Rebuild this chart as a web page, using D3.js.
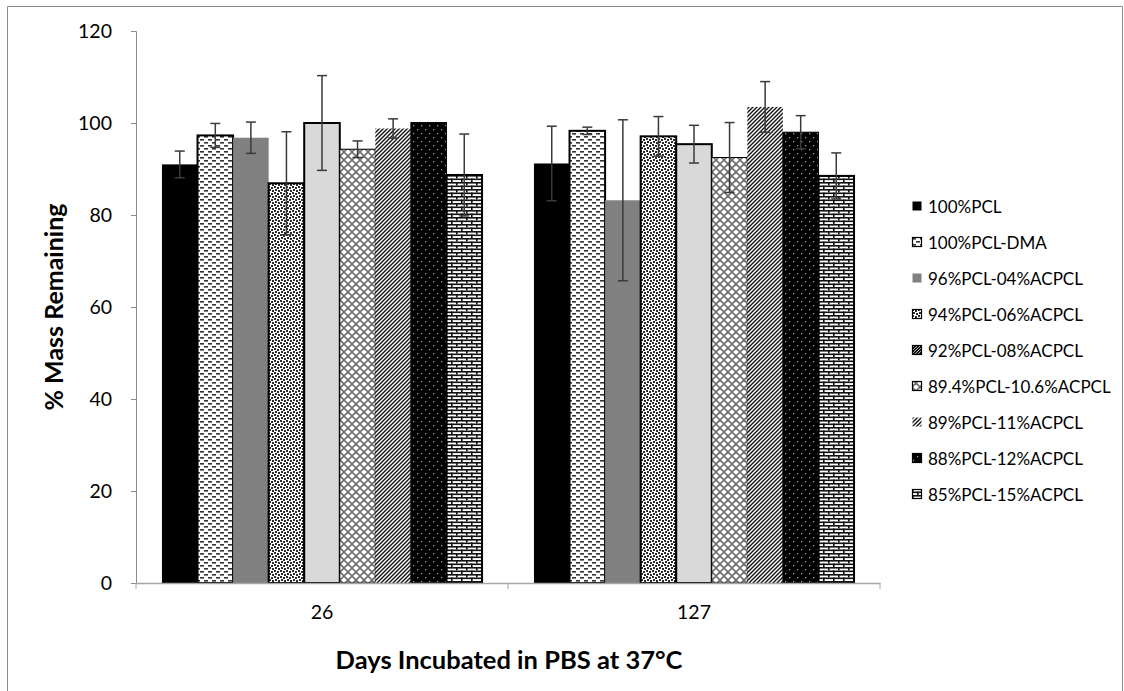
<!DOCTYPE html>
<html>
<head>
<meta charset="utf-8">
<script src="https://cdn.jsdelivr.net/npm/d3@7"></script>
<style>
  html, body { margin: 0; padding: 0; background: #fff; }
  svg { display: block; font-family: Lato, "Open Sans", sans-serif; }
</style>
</head>
<body>
<svg id="chart" width="1124" height="691"></svg>
<script>
// Days of incubation (x categories)
const days = ["26", "127"];
// Polymer formulations (series)
const series = [
  "100%PCL", "100%PCL-DMA", "96%PCL-04%ACPCL", "94%PCL-06%ACPCL",
  "92%PCL-08%ACPCL", "89.4%PCL-10.6%ACPCL", "89%PCL-11%ACPCL",
  "88%PCL-12%ACPCL", "85%PCL-15%ACPCL"
];
// % mass remaining, one value per series, for day 26 and day 127
const massDay26  = [91.0, 97.3, 96.8, 86.9, 100.0, 94.3, 98.8, 100.1, 88.7];
const massDay127 = [91.2, 98.3, 83.2, 97.1, 95.4, 92.5, 103.5, 98.0, 88.5];
// standard deviation (error bar half-length)
const errDay26  = [2.9, 2.6, 3.4, 11.2, 10.3, 1.8, 2.1, 0, 8.9];
const errDay127 = [8.1, 0.8, 17.5, 4.3, 4.1, 7.6, 5.5, 3.6, 5.0];
const yTicks = [0, 20, 40, 60, 80, 100, 120];

const svg = d3.select("#chart");
const defs = svg.append("defs");

// ---- fill patterns ----
function pattern(id, w, h, bg) {
  const p = defs.append("pattern").attr("id", id)
    .attr("patternUnits", "userSpaceOnUse").attr("width", w).attr("height", h);
  p.append("rect").attr("width", w).attr("height", h).attr("fill", bg);
  return p;
}
// short horizontal dashes
{
  const p = pattern("pDash", 8, 6, "#fff");
  p.append("rect").attr("x", 0).attr("y", 1).attr("width", 4).attr("height", 1.6).attr("fill", "#333");
  p.append("rect").attr("x", 4).attr("y", 4).attr("width", 4).attr("height", 1.6).attr("fill", "#333");
}
// confetti weave
{
  const p = pattern("pWeave", 6, 6, "#fff");
  [[0,0,2,2],[3,1,2,2],[1,3,2,2],[4,4,2,2]].forEach(r =>
    p.append("rect").attr("x", r[0]).attr("y", r[1]).attr("width", r[2]).attr("height", r[3]).attr("fill", "#2a2a2a"));
}
// diamond lattice
{
  const p = pattern("pDiamond", 8, 8, "#fff");
  p.append("path").attr("d", "M0,0L8,8M8,0L0,8M-4,4L4,-4M4,12L12,4M-4,4L4,12M4,-4L12,4")
    .attr("stroke", "#707070").attr("stroke-width", 1.6);
}
// dense upward diagonal
{
  const p = pattern("pDiag", 4, 4, "#fff");
  p.append("path").attr("d", "M-1,1L1,-1M0,4L4,0M3,5L5,3")
    .attr("stroke", "#111").attr("stroke-width", 1.4);
}
// black with grey dots
{
  const p = pattern("pDots", 8, 8, "#000");
  p.append("rect").attr("x", 1).attr("y", 1).attr("width", 1.3).attr("height", 1.3).attr("fill", "#999");
  p.append("rect").attr("x", 5).attr("y", 5).attr("width", 1.3).attr("height", 1.3).attr("fill", "#999");
}
// brick
{
  const p = pattern("pBrick", 10, 7, "#fff");
  p.append("rect").attr("x", 0).attr("y", 0).attr("width", 10).attr("height", 1.6).attr("fill", "#111");
  p.append("rect").attr("x", 0).attr("y", 3.5).attr("width", 10).attr("height", 1.6).attr("fill", "#111");
  p.append("rect").attr("x", 0).attr("y", 0).attr("width", 1.6).attr("height", 3.5).attr("fill", "#111");
  p.append("rect").attr("x", 5).attr("y", 3.5).attr("width", 1.6).attr("height", 3.5).attr("fill", "#111");
}
// legend swatch for the light grey series
{
  const p = pattern("pLegDiag", 3, 3, "#111");
  p.append("path").attr("d", "M0,3L3,0").attr("stroke", "#ddd").attr("stroke-width", 0.8);
}

const styles = [
  { fill: "#000", stroke: "none", sw: 0 },
  { fill: "url(#pDash)", stroke: "#000", sw: 2 },
  { fill: "#808080", stroke: "none", sw: 0 },
  { fill: "url(#pWeave)", stroke: "#000", sw: 2 },
  { fill: "#d9d9d9", stroke: "#000", sw: 2 },
  { fill: "url(#pDiamond)", stroke: "#000", sw: 1 },
  { fill: "url(#pDiag)", stroke: "none", sw: 0 },
  { fill: "url(#pDots)", stroke: "#000", sw: 1 },
  { fill: "url(#pBrick)", stroke: "#000", sw: 2 }
];
const legendFill = styles.map(s => s.fill);
legendFill[4] = "url(#pLegDiag)";

// ---- outer frame ----
svg.append("path").attr("d", "M7.5,700V6.5H1122.5V700")
  .attr("fill", "none").attr("stroke", "#8c8c8c").attr("stroke-width", 1);

// ---- scales ----
const x0 = d3.scaleBand().domain(days).range([136, 880]).paddingInner(0).paddingOuter(0);
const x1 = d3.scaleBand().domain(series).range([0, x0.bandwidth()]).paddingInner(0).paddingOuter(0.73);
const y = d3.scaleLinear().domain([0, 120]).range([583, 31]);

const data = days.map((d, i) => ({
  day: d,
  vals: series.map((s, j) => ({
    s, j,
    v: i === 0 ? massDay26[j] : massDay127[j],
    e: i === 0 ? errDay26[j] : errDay127[j]
  }))
}));

// ---- bars ----
const groups = svg.append("g").selectAll("g").data(data).join("g")
  .attr("transform", d => `translate(${x0(d.day)},0)`);

groups.selectAll("rect.bar").data(d => d.vals).join("rect")
  .attr("class", "bar")
  .attr("x", d => x1(d.s))
  .attr("y", d => y(d.v))
  .attr("width", x1.bandwidth())
  .attr("height", d => y(0) - y(d.v))
  .attr("fill", d => styles[d.j].fill)
  .attr("stroke", d => styles[d.j].stroke)
  .attr("stroke-width", d => styles[d.j].sw);

// ---- error bars ----
const eb = groups.selectAll("g.err").data(d => d.vals.filter(v => v.e > 0)).join("g")
  .attr("class", "err")
  .attr("stroke", "#3a3a3a").attr("stroke-width", 1.5);
eb.append("line")
  .attr("x1", d => x1(d.s) + x1.bandwidth() / 2).attr("x2", d => x1(d.s) + x1.bandwidth() / 2)
  .attr("y1", d => y(d.v - d.e)).attr("y2", d => y(d.v + d.e));
[1, -1].forEach(sign => {
  eb.append("line")
    .attr("x1", d => x1(d.s) + x1.bandwidth() / 2 - 5).attr("x2", d => x1(d.s) + x1.bandwidth() / 2 + 5)
    .attr("y1", d => y(d.v + sign * d.e)).attr("y2", d => y(d.v + sign * d.e));
});

// ---- axes ----
const yAxis = svg.append("g").attr("transform", "translate(136,0)")
  .call(d3.axisLeft(y).tickValues(yTicks).tickSize(5).tickPadding(19));
yAxis.select(".domain").attr("stroke", "#8c8c8c");
yAxis.selectAll(".tick line").attr("stroke", "#8c8c8c");
yAxis.selectAll("text").attr("font-size", 19.5).attr("fill", "#000")
  .attr("font-family", "Lato, sans-serif");

const xAxis = svg.append("g").attr("transform", "translate(0,583)")
  .call(d3.axisBottom(x0).tickSize(0).tickPadding(22));
xAxis.select(".domain").attr("stroke", "#a6a6a6").attr("stroke-width", 1.5);
xAxis.selectAll("text").attr("font-size", 19.5).attr("fill", "#000")
  .attr("font-family", "Lato, sans-serif");
// category separators
svg.append("g").selectAll("line").data([x0.range()[0], x0("127"), x0.range()[1]]).join("line")
  .attr("x1", d => d).attr("x2", d => d).attr("y1", 583).attr("y2", 589)
  .attr("stroke", "#a6a6a6").attr("stroke-width", 1);

// ---- axis titles ----
svg.append("text").attr("x", 509).attr("y", 669).attr("text-anchor", "middle")
  .attr("font-size", 25.5).attr("font-weight", "bold").text("Days Incubated in PBS at 37°C");
svg.append("text").attr("transform", "translate(63,307) rotate(-90)").attr("text-anchor", "middle")
  .attr("font-size", 25).attr("font-weight", "bold").text("% Mass Remaining");

// ---- legend ----
const leg = svg.append("g").selectAll("g").data(series).join("g")
  .attr("transform", (d, i) => `translate(912,${207 + i * 36})`);
leg.append("rect").attr("x", 0.5).attr("y", -5.5).attr("width", 9).attr("height", 9)
  .attr("fill", (d, i) => legendFill[i])
  .attr("stroke", (d, i) => (i === 0 || i === 2 || i === 6) ? "none" : "#000").attr("stroke-width", 1.2);
leg.append("text").attr("x", 16).attr("y", 0).attr("dy", "0.35em")
  .attr("font-size", 17).text(d => d);
</script>
</body>
</html>
